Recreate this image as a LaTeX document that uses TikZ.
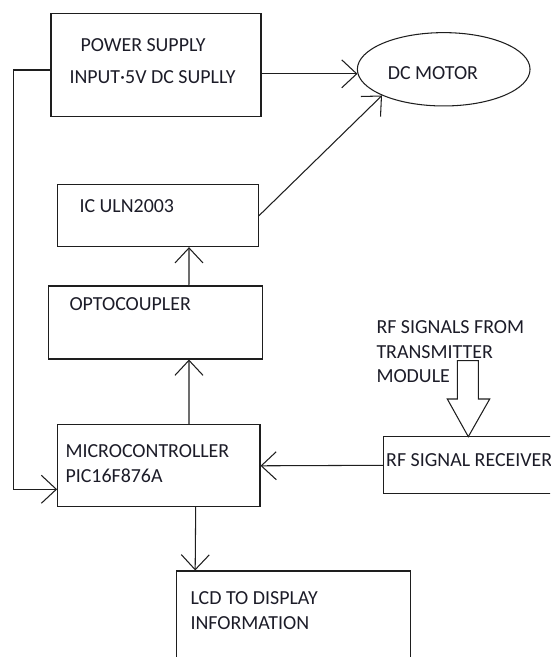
\documentclass[tikz,border=0pt]{standalone}
\usepackage{fontspec}
\setmainfont{Carlito}
\usetikzlibrary{positioning,shapes.geometric,calc}
\usetikzlibrary{arrows.meta}
\definecolor{wire}{RGB}{30, 30, 30}
\definecolor{label}{RGB}{28, 28, 40}

\begin{document}
\begin{tikzpicture}[x=0.03cm,y=-0.03cm,line width = 0.9pt,
	blk/.style={rectangle,draw=wire,inner sep=0pt},
	txt/.style={anchor=base west,inner sep=0pt,text=label,font=\fontsize{17}{20}\selectfont},
	arr/.style={draw=wire,-{Straight Barb[length=4.5mm,width=8.4mm]}}]
	\clip (0,0) rectangle (550,657);
	% boxes
	\node[blk,minimum width=6.3cm,minimum height=3.1cm] (ps) at(156,65) {};
	\node[ellipse,draw=wire,inner sep=0pt,minimum width=5.18cm,minimum height=2.2cm] (motor) at(443.7,69.3) {};
	\node[blk,minimum width=6.02cm,minimum height=1.85cm] (ic) at(158,215.8) {};
	\node[blk,minimum width=6.42cm,minimum height=2.19cm] (opto) at(155.3,322.5) {};
	\node[blk,minimum width=6.07cm,minimum height=2.45cm] (micro) at(158.8,465.8) {};
	\node[blk,minimum width=7.1cm,minimum height=1.72cm] (rf) at(501.7,465.3) {};
	\node[blk,minimum width=7.02cm,minimum height=3.87cm] (lcd) at(293.7,635.5) {};
	
	% texts
	\node[txt] (pstext) at(80,51.7) {POWER SUPPLY};
	\node[txt] (intext) at(69,84) {INPUT·5V DC SUPLLY};
	\node[txt] (motortext) at(387.3,80) {DC MOTOR};
	\node[txt] (ictext) at(79,212.3) {IC ULN2003};
	\node[txt] (optotext) at(69,310) {OPTOCOUPLER};
	\node[txt] (srctexta) at(376,333.3) {RF SIGNALS FROM};
	\node[txt] (srctextb) at(376,358.3) {TRANSMITTER};
	\node[txt] (srctextc) at(376,382) {MODULE};
	\node[txt] (microtexta) at(65,457.3) {MICROCONTROLLER};
	\node[txt] (microtextb) at(65,482.3) {PIC16F876A};
	\node[txt] (rftext) at(385.7,466.7) {RF SIGNAL RECEIVER};
	\node[txt] (lcdtexta) at(190,604.3) {LCD TO DISPLAY};
	\node[txt] (lcdtextb) at(190,629) {INFORMATION};
	
	% connectors
	\draw[arr] (ps.east |- motor.183) -- (motor.183);
	\draw[arr] (ic.east) -- (motor.203);
	\draw[arr] ([xshift=1.01cm]opto.north) -- ([xshift=0.93cm]ic.south);
	\draw[arr] ([xshift=0.906cm]micro.north) -- ([xshift=1.01cm]opto.south);
	\draw[arr] (rf.west) -- (micro.east);
	\draw[arr] ([xshift=1.107cm]micro.south) -- ([xshift=0.57cm]lcd.north west);
	\draw[arr] ([yshift=-0.15cm]ps.west) -- ++(-37,0) |- ([yshift=-0.705cm]micro.west);
	
	% block arrow into the receiver
	\coordinate (rfin) at(468.3,436.7);
	\draw[draw=wire] (rfin) -- ++(-21,-37.7) -- ++(10,0) -- ++(0,-38.3) -- ++(21,0) -- ++(0,38.3) -- ++(11.4,0) -- cycle;
\end{tikzpicture}
\end{document}
